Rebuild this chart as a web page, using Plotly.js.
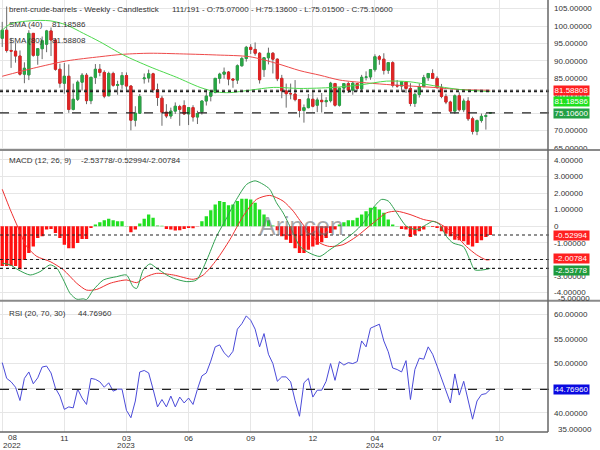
<!DOCTYPE html>
<html><head><meta charset="utf-8">
<script src="https://cdn.plot.ly/plotly-3.0.1.min.js"></script>
<style>html,body{margin:0;padding:0;background:#fff;}#chart{width:600px;height:450px;}</style>
</head><body><div id="chart"></div>
<script>
// ---------- DATA (weekly candles, index 0 = week of 22 Aug 2022) ----------
const open  = [96.5,98.8,93.0,92.8,91.4,86.2,86.0,97.9,91.6,93.5,94.8,98.6,96.0,87.6,83.6,85.6,76.1,79.0,83.9,85.9,78.6,85.3,87.6,86.7,80.0,86.4,83.0,83.2,85.8,82.8,73.0,75.0,84.9,85.1,86.3,81.7,79.3,75.3,74.2,75.6,76.9,77.2,74.8,76.6,73.9,75.4,78.5,79.9,81.0,85.0,86.2,86.8,84.8,84.5,88.6,90.7,93.9,93.3,92.2,87.5,90.9,92.2,90.5,85.0,81.4,80.6,80.5,78.9,75.8,76.6,79.0,77.3,78.7,78.3,78.6,83.5,77.3,82.2,83.5,81.6,83.5,82.0,85.3,85.4,87.5,91.2,90.5,87.3,89.5,83.0,82.8,84.0,82.1,77.8,80.4,82.6,85.2,86.4,85.0,82.4,79.8,78.2,75.6,80.0,76.0,78.5,73.4,69.8,72.9,74.1,75.07];
const high  = [101.2,105.6,96.6,95.1,93.0,89.6,98.8,98.0,93.7,97.0,98.9,99.6,96.5,89.2,89.4,89.0,83.5,84.4,86.5,86.5,85.0,89.1,89.1,87.3,86.9,86.9,84.3,86.8,86.7,83.0,77.0,80.5,86.4,87.5,86.6,83.5,80.0,77.6,76.6,78.1,77.4,78.7,76.6,77.3,75.7,78.6,81.8,81.3,85.0,86.6,88.1,87.1,85.1,89.0,91.2,94.3,94.8,95.3,92.5,91.0,93.8,92.5,90.7,86.0,83.5,83.5,84.5,79.0,77.5,80.5,81.5,79.5,80.8,79.6,84.0,83.7,82.3,83.5,84.0,84.0,83.7,86.0,87.0,87.5,91.9,91.7,92.2,89.6,89.9,84.5,84.0,84.0,83.6,80.9,83.5,86.0,86.5,87.6,85.6,83.4,80.6,78.6,80.4,81.0,79.2,79.6,74.0,73.2,74.9,75.0,75.136];
const low   = [94.0,92.4,88.0,89.5,85.8,83.6,84.5,91.2,88.9,90.5,92.5,91.4,87.2,82.3,80.6,75.1,75.8,78.5,81.5,77.6,77.6,83.4,85.6,79.3,79.9,82.6,80.3,82.0,81.5,70.1,71.2,74.8,83.5,83.8,80.8,77.1,71.4,73.6,73.4,74.8,71.4,74.5,71.6,72.6,71.9,74.6,77.2,78.4,80.7,83.5,84.9,83.0,82.3,83.4,88.4,89.8,92.0,91.5,83.5,85.4,89.0,86.4,84.2,79.3,76.6,79.0,78.4,73.8,72.3,76.4,76.7,75.3,75.2,76.8,78.1,76.9,76.9,80.7,80.8,80.3,81.2,81.1,84.4,84.6,86.9,88.9,86.1,86.3,82.4,82.3,81.1,80.8,77.0,76.8,79.5,82.5,84.3,84.8,82.0,79.3,77.6,75.2,74.8,75.5,75.3,72.8,68.9,68.7,72.3,70.3,75.015];
const close = [98.8,93.0,92.8,91.4,86.2,87.9,97.9,91.6,93.5,95.8,98.6,96.0,87.6,83.6,85.6,76.1,79.0,83.9,85.9,78.6,85.3,87.6,86.7,79.9,86.4,83.0,83.2,85.8,82.8,73.0,75.0,79.8,85.1,86.3,81.7,79.5,75.3,74.2,75.6,77.0,76.1,74.8,76.6,73.9,74.9,78.5,79.9,81.1,85.0,86.2,86.8,84.8,84.5,88.6,90.7,93.9,93.3,92.2,84.6,90.9,92.2,90.5,84.9,81.4,80.6,80.6,78.9,75.8,76.6,79.1,77.0,78.8,78.3,78.6,83.6,77.3,82.2,83.5,81.6,83.6,82.1,85.3,85.4,87.5,91.2,90.5,87.3,89.5,83.0,82.8,84.0,82.1,77.8,80.4,82.6,85.2,86.4,85.0,82.4,79.8,78.2,75.6,80.0,76.0,78.5,73.4,69.8,72.9,74.1,74.3,75.106];

// moving averages (candle index, value)
const sma40X = [0,1.8,6.3,10.8,14.5,18.3,22.0,27.3,33.3,39.3,44.6,48.3,51.3,55.8,61.1,67.1,74.6,80.6,86.6,91.9,98.6,103.1,110];
const sma40Y = [98.8,100.6,101.5,101.5,100.3,97.9,95.5,91.7,88.3,85.3,82.4,81.1,80.9,81.6,82.4,82.1,82.4,83.1,84.2,84.0,82.6,81.8,81.18586];
const sma80X = [0,7.0,14.5,22.0,27.3,33.3,40.8,48.3,55.8,61.8,67.1,71.6,76.1,82.1,88.1,97.1,103.1,110];
const sma80Y = [85.6,87.9,90.0,91.2,91.9,92.2,92.0,91.7,91.2,89.3,87.2,85.9,84.5,83.7,83.1,82.4,81.8,81.58808];

// MACD panel
const macdX = [0,1.8,3.6,6.3,8.5,10.8,12.3,13.8,15.3,16.8,18.3,19.0,20.5,22.8,25.8,28.0,29.5,30.3,31.8,33.3,34.8,37.1,38.6,41.6,43.8,46.1,48.3,50.6,52.8,55.1,57.0,58.8,60.3,61.8,63.3,65.2,67.1,69.3,71.6,73.8,76.1,79.1,81.4,83.6,85.5,87.0,88.9,91.1,93.4,95.6,97.1,98.6,100.1,101.6,103.9,105.4,106.5,109.1,110];
const macdY = [-2.23,-2.33,-2.63,-2.94,-2.74,-2.33,-2.53,-3.24,-4.05,-4.40,-4.38,-4.42,-3.85,-3.24,-3.04,-2.94,-3.65,-3.75,-2.63,-2.27,-2.53,-2.94,-3.14,-3.34,-3.24,-2.03,-0.61,0.51,1.62,2.53,2.74,2.53,2.23,1.42,0.81,-0.20,-1.22,-1.62,-1.82,-1.42,-1.01,-0.41,0.20,1.11,1.62,1.52,0.81,0.00,-0.20,0.10,0.30,0.10,-0.61,-1.01,-1.22,-2.03,-2.63,-2.60,-2.53778];
const signalX = [0,1.8,3.6,5.5,7.8,10.8,13.8,16.8,19.0,21.3,24.3,28.0,30.3,32.5,34.8,38.6,43.1,45.3,48.3,51.3,54.3,57.3,60.3,63.3,65.6,67.1,69.3,71.6,73.8,76.8,79.9,83.6,86.6,88.9,91.9,94.9,97.9,100.1,102.4,104.6,106.9,109.1,110];
const signalY = [2.23,1.01,-0.10,-1.22,-1.82,-2.13,-2.63,-3.44,-3.85,-3.81,-3.44,-3.24,-3.40,-3.04,-2.84,-2.94,-3.20,-2.94,-2.03,-0.81,0.61,1.62,1.86,1.52,0.91,0.35,-0.41,-1.01,-1.22,-1.11,-0.61,0.20,0.81,0.91,0.71,0.41,0.24,-0.10,-0.61,-1.22,-1.72,-2.03,-2.00784];
const hist = [-2.39,-2.39,-2.39,-2.39,-2.6,-2.03,-1.62,-1.22,-0.71,-0.61,-0.20,-0.16,-0.41,-0.71,-1.11,-1.32,-1.32,-1.01,-0.77,-0.77,-0.10,0.10,0.24,0.36,0.45,0.36,0.30,0.30,0.02,-0.36,-0.20,0.16,0.45,0.71,0.51,0.04,0.03,-0.16,-0.20,-0.26,-0.24,-0.16,-0.10,-0.12,-0.02,0.30,0.61,0.97,1.32,1.52,1.46,1.26,1.32,1.52,1.66,1.66,1.62,1.42,1.01,0.71,0.36,0.04,-0.24,-0.61,-0.81,-1.01,-1.32,-1.62,-1.62,-1.42,-1.22,-1.11,-0.97,-0.71,-0.41,-0.20,0.10,0.24,0.36,0.36,0.51,0.71,0.91,1.11,1.18,1.01,0.81,0.41,0.10,0.02,-0.16,-0.20,-0.65,-0.51,-0.30,-0.20,0.02,-0.04,-0.10,-0.30,-0.45,-0.61,-0.81,-0.85,-0.91,-1.11,-1.22,-1.01,-0.85,-0.65,-0.52994];

// RSI panel
const rsi = [50.2,47.0,46.3,45.2,42.5,47.0,48.3,45.9,47.1,49.3,49.5,48.1,45.0,43.4,40.7,41.2,41.0,44.8,43.0,41.7,47.0,46.8,46.3,45.2,46.1,44.4,44.8,44.8,40.5,39.0,42.4,48.3,48.6,48.1,44.8,41.2,42.7,41.2,43.4,41.2,43.2,42.0,43.0,41.7,44.8,47.5,48.1,50.5,53.4,53.8,52.2,51.3,52.5,57.0,58.1,59.7,58.8,57.0,53.4,56.1,51.9,50.0,46.4,47.3,47.3,46.3,42.5,39.3,46.1,47.0,43.2,44.6,44.6,46.4,50.0,46.6,50.4,49.7,50.2,50.0,50.4,54.6,53.4,57.2,57.6,58.0,54.6,52.4,49.1,48.8,48.3,50.6,42.7,48.8,51.1,50.9,53.4,51.9,49.5,47.0,44.6,42.0,47.9,43.6,46.4,42.5,38.7,42.4,43.7,43.9,44.7696];

// axis ticks
const xTickVals = [0,14,28,42,56,70,84,98,112];
const xTickText = ["","11","03","06","09","12","04","07","10"];
const firstTickText = "08";
const yearLabels = ["2022","2023","2024"];
const yearTickIdx = [0,28,84];
const priceTicks = [65,70,75,80,85,90,95,100,105];
const macdTicks = [-4,-3,-2,-1,0,1,2,3,4];
const macdTickText = ["-4.00000","-3.00000","-2.00000","-1.00000","0","1.00000","2.00000","3.00000","4.00000"];
const rsiTicks = [40,45,50,55,60];

// last values shown in the legends / right-hand labels
const last = {o:75.07, h:75.136, l:75.015, c:75.106, sma40:81.18586, sma80:81.58808,
  macd:-2.53778, hist:-0.52994, signal:-2.00784, rsi:44.7696};

// ---------- DRAWING ----------
const GREEN='#28a745', RED='#e02424', WICK='#6a6a6a';
const idx = open.map((_, i) => i);
const bodyHi = open.map((o, i) => Math.max(o, close[i]));
const bodyLo = open.map((o, i) => Math.min(o, close[i]));

const PH = 432, PW = 548;             // plot-area size in px
const py = p => 1 - p / PH;           // px from top -> paper y
const px = p => p / PW;               // px from left -> paper x
const X0 = 2.2, DX = 4.439;           // pixel position of candle 0, px per candle

const traces = [
  {type:'candlestick', x:idx, open:open, high:high, low:low, close:close, xaxis:'x', yaxis:'y',
   increasing:{line:{color:WICK,width:1},fillcolor:WICK}, decreasing:{line:{color:WICK,width:1},fillcolor:WICK},
   whiskerwidth:0, hoverinfo:'skip'},
  {type:'candlestick', x:idx, open:open, high:bodyHi, low:bodyLo, close:close, xaxis:'x', yaxis:'y',
   increasing:{line:{color:GREEN,width:1},fillcolor:GREEN}, decreasing:{line:{color:RED,width:1},fillcolor:RED},
   whiskerwidth:0},
  {type:'scatter', mode:'lines', x:sma80X, y:sma80Y, yaxis:'y', line:{color:'#ee4a4a', width:1, shape:'spline', smoothing:0.8}},
  {type:'scatter', mode:'lines', x:sma40X, y:sma40Y, yaxis:'y', line:{color:'#4cd94c', width:1, shape:'spline', smoothing:0.8}},
  {type:'bar', x:idx, y:hist, yaxis:'y2', marker:{color:hist.map(v => v >= 0 ? '#22e022' : '#ff1010'), line:{width:0}}},
  {type:'scatter', mode:'lines', x:signalX, y:signalY, yaxis:'y2', line:{color:'#ee3030', width:1, shape:'spline', smoothing:0.7}},
  {type:'scatter', mode:'lines', x:macdX, y:macdY, yaxis:'y2', line:{color:'#30a050', width:1, shape:'spline', smoothing:0.7}},
  {type:'scatter', mode:'lines', x:idx, y:rsi, yaxis:'y3', line:{color:'#4a4ad8', width:1}}
];

const grid = '#e6e6e6';
const yCommon = {side:'right', anchor:'x', showgrid:true, gridcolor:grid, zeroline:false, showline:false,
  ticks:'', ticklabelstandoff:5, fixedrange:true, tickfont:{size:8, color:'#333'}};

function hline(yref, y, dash){
  return {type:'line', xref:'paper', yref:yref, x0:0, x1:1.005, y0:y, y1:y, line:{color:'#222', width:1.1, dash:dash}};
}
function box(text, ypx, color){
  return {xref:'paper', yref:'paper', x:px(553), y:py(ypx), xanchor:'left', yanchor:'middle', showarrow:false,
    text:text, font:{size:8, color:'#fff'}, bgcolor:color, borderpad:0, height:9, width:35};
}
function label(text, xpx, ypx, opts){
  return Object.assign({xref:'paper', yref:'paper', x:px(xpx), y:py(ypx), xanchor:'left', yanchor:'middle',
    showarrow:false, text:text, font:{size:8, color:'#333'}}, opts || {});
}
const f5 = v => v.toFixed(5);

const annotations = [
  label('brent-crude-barrels - Weekly - Candlestick', 7, 10),
  label('111/191 - O:' + f5(last.o) + ' - H:' + f5(last.h) + ' - L:' + f5(last.l) + ' - C:' + f5(last.c), 170, 10),
  label('SMA (40)', 7, 25), label(f5(last.sma40), 50, 25),
  label('SMA (80)', 7, 40.7), label(f5(last.sma80), 50, 40.7),
  label('MACD (12, 26, 9)', 7, 160.7),
  label(f5(last.macd) + '/' + f5(last.hist) + '/' + f5(last.signal), 79, 160.7),
  label('RSI (20, 70, 30)', 7, 313.3), label(f5(last.rsi), 76, 313.3),
  {xref:'paper', yref:'paper', x:px(301), y:py(226), xanchor:'center', yanchor:'middle', showarrow:false,
   text:'Arincen', font:{size:25, color:'rgba(110,110,110,0.6)'}},
  box(f5(last.sma80), 90.5, '#ff2020'),
  box(f5(last.sma40), 101.6, '#1ee01e'),
  box(f5(last.c), 113.4, '#22a045'),
  box(f5(last.hist), 235, '#ff2020'),
  box(f5(last.signal), 258.8, '#ff2020'),
  box(f5(last.macd), 270.6, '#1e9a3c'),
  box(f5(last.rsi), 389.3, '#0a0ae0'),
  label('-5.00000', 556, 298.5),
  label('35.00000', 556, 429),
  label(firstTickText, 12, 437.5, {xanchor:'center'})
];
yearLabels.forEach((t, k) => {
  const xp = Math.max(X0 + DX * yearTickIdx[k], 12);
  annotations.push(label(t, xp, 445.5, {xanchor:'center'}));
});

const layout = {
  width:600, height:450, margin:{l:0, r:52, t:0, b:18},
  paper_bgcolor:'#fff', plot_bgcolor:'#fff', showlegend:false, bargap:0.25,
  font:{family:'Liberation Sans, Arial, sans-serif', size:8, color:'#333'},
  xaxis:{range:[-0.5, 123], anchor:'y3', tickvals:xTickVals, ticktext:xTickText, showgrid:true, gridcolor:grid,
    zeroline:false, showline:false, ticks:'', rangeslider:{visible:false}, fixedrange:true, tickfont:{size:8, color:'#333'}},
  yaxis:Object.assign({}, yCommon, {domain:[1-150/PH, 1], range:[64.45, 107.47], tickvals:priceTicks, tickformat:'.5f'}),
  yaxis2:Object.assign({}, yCommon, {domain:[1-300.7/PH, 1-150/PH], range:[-4.49, 4.60], tickvals:macdTicks, ticktext:macdTickText}),
  yaxis3:Object.assign({}, yCommon, {domain:[0, 1-300.7/PH], range:[36.1, 62.78], tickvals:rsiTicks, tickformat:'.5f'}),
  shapes:[
    hline('y', last.sma80, 'dot'), hline('y', last.sma40, 'dot'), hline('y', last.c, 'dash'),
    hline('y2', last.hist, 'dot'), hline('y2', last.signal, 'dot'), hline('y2', last.macd, 'dot'),
    hline('y3', last.rsi, 'dash'),
    {type:'line', xref:'paper', yref:'paper', x0:0, x1:1.095, y0:py(150), y1:py(150), line:{color:'#8a8a8a', width:2}},
    {type:'line', xref:'paper', yref:'paper', x0:0, x1:1.095, y0:py(300.7), y1:py(300.7), line:{color:'#8a8a8a', width:2}},
    {type:'line', xref:'paper', yref:'paper', x0:1, x1:1, y0:0, y1:1, line:{color:'#666', width:1.5}},
    {type:'line', xref:'paper', yref:'paper', x0:0, x1:1, y0:0, y1:0, line:{color:'#666', width:1.5}}
  ],
  annotations:annotations
};

Plotly.newPlot('chart', traces, layout, {displayModeBar:false, staticPlot:true});
</script></body></html>
